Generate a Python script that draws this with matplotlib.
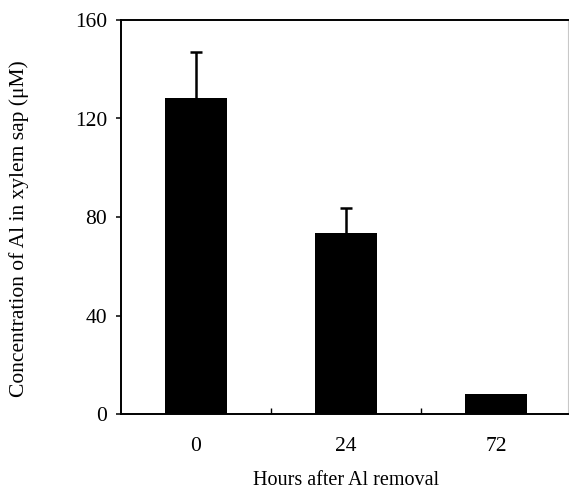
import matplotlib
matplotlib.use("Agg")
import matplotlib.pyplot as plt
import numpy as np

categories = ["0", "24", "72"]
values = [128.3, 73.4, 8.0]
errors = [18.8, 10.4, 0.0]
yticks = [0, 40, 80, 120, 160]

plt.rcParams['font.family'] = ['Liberation Serif', 'DejaVu Serif']

W, H = 569, 490
fig = plt.figure(figsize=(W / 100, H / 100), dpi=100)
left, right, top, bottom = 121, 568, 20, 414
ax = fig.add_axes([left / W, 1 - bottom / H, (right - left) / W, (bottom - top) / H])

x = np.arange(len(categories))
vals = np.array(values)
errs = np.array(errors)
ax.bar(x, vals, width=0.415, color='black', zorder=2)
has_err = errs > 0
eb = ax.errorbar(x[has_err], vals[has_err],
                 yerr=[np.zeros(has_err.sum()), errs[has_err]], fmt='none',
                 ecolor='black', elinewidth=1.8, capsize=4.3, capthick=1.8, zorder=3)
# hide the lower caps (only upward error bars are shown)
eb[1][0].set_visible(False)

ax.set_xlim(-0.5, -0.5 + (right - left) / 150)
ax.set_ylim(0, 160)
ax.set_yticks(yticks)
ax.set_yticklabels([str(t) for t in yticks], fontsize=15.5)
ax.set_xticks(x)
ax.set_xticklabels(categories, fontsize=15.5)
ax.tick_params(axis='x', length=0, pad=16.5)
ax.set_xticks([0.5, 1.5], minor=True)
ax.tick_params(axis='x', which='minor', direction='in', length=4, width=1)
ax.tick_params(axis='y', direction='out', length=3.6, width=1.1, pad=6.5)

for s in ['left', 'bottom', 'top']:
    ax.spines[s].set_linewidth(1.4)
ax.spines['right'].set_color('#c8c8c8')
ax.spines['right'].set_linewidth(0.8)

fig.text(346.5 / W, 1 - 485 / H, "Hours after Al removal", fontsize=14.5,
         ha='center', va='baseline')
fig.text(19 / W, 1 - 229 / H, "Concentration of Al in xylem sap (\u03bcM)",
         fontsize=15.5, rotation=90, ha='center', va='center')

fig.savefig("out.png", dpi=100)
